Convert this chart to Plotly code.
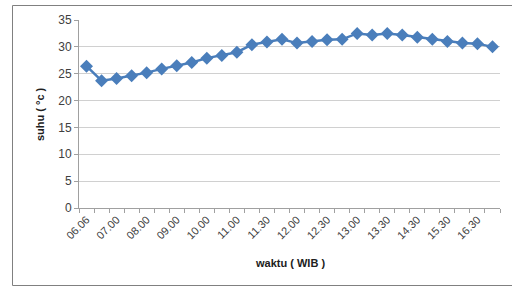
import plotly.graph_objects as go

categories = ["06.06", "06.30", "07.00", "07.30", "08.00", "08.30", "09.00", "09.30",
              "10.00", "10.30", "11.00", "11.15", "11.30", "11.45", "12.00", "12.15",
              "12.30", "12.45", "13.00", "13.15", "13.30", "14.00", "14.30", "15.00",
              "15.30", "16.00", "16.30", "17.00"]
suhu = [26.4, 23.7, 24.1, 24.6, 25.2, 25.9, 26.5, 27.1, 27.9, 28.4, 29.0, 30.4,
        30.9, 31.4, 30.7, 31.0, 31.3, 31.4, 32.5, 32.2, 32.5, 32.2, 31.8, 31.4,
        31.0, 30.7, 30.6, 30.0]
tick_text = [c if i % 2 == 0 else "" for i, c in enumerate(categories)]
y_ticks = [0, 5, 10, 15, 20, 25, 30, 35]

fig = go.Figure()
fig.add_trace(go.Scatter(
    x=categories, y=suhu, mode="lines+markers",
    line=dict(color="#4A7EBB", width=2.5),
    marker=dict(symbol="diamond", size=10, color="#4A7EBB"),
    showlegend=False, cliponaxis=False,
))

font_c = "#404040"
fig.update_layout(
    width=512, height=287,
    margin=dict(l=79, r=12, t=20, b=79, autoexpand=False),
    paper_bgcolor="white", plot_bgcolor="white",
    font=dict(family="Liberation Sans, Arial", color=font_c, size=11),
    xaxis=dict(
        type="category", tickmode="array", tickvals=categories, ticktext=tick_text,
        tickson="boundaries", ticks="outside", ticklen=4, tickcolor="#A0A0A0",
        tickangle=-45, tickfont=dict(size=11, color=font_c), automargin=False,
        showline=True, linecolor="#A0A0A0", linewidth=1,
        showgrid=False, range=[-0.5, 27.5],
    ),
    yaxis=dict(
        range=[0, 35], tickvals=y_ticks, ticks="outside", ticklen=4,
        tickcolor="#A0A0A0", showline=True, linecolor="#A0A0A0", linewidth=1,
        showgrid=True, gridcolor="#D0D0D0", gridwidth=1, zeroline=False,
        tickfont=dict(size=12, color=font_c), automargin=False,
    ),
    shapes=[dict(type="rect", xref="paper", yref="paper",
                 x0=(12.5 - 79) / 421, x1=(515 - 79) / 421,
                 y0=(208 - 285.5) / 188, y1=(208 - 5.5) / 188,
                 line=dict(color="#808080", width=1), fillcolor="rgba(0,0,0,0)")],
    annotations=[
        dict(text="<b>waktu ( WIB )</b>", xref="paper", yref="paper",
             x=0.5, y=(208 - 263) / 188, xanchor="center", yanchor="middle",
             showarrow=False, font=dict(size=11, color="#202020")),
        dict(text="<b>suhu ( °c )</b>", xref="paper", yref="paper",
             x=(40 - 79) / 421, y=0.5, xanchor="center", yanchor="middle",
             textangle=-90, showarrow=False,
             font=dict(size=11, color="#202020")),
    ],
)

fig.write_html("out.html", config={"displayModeBar": False},
               post_script="document.body.style.margin='0';document.body.style.overflow='hidden';")
